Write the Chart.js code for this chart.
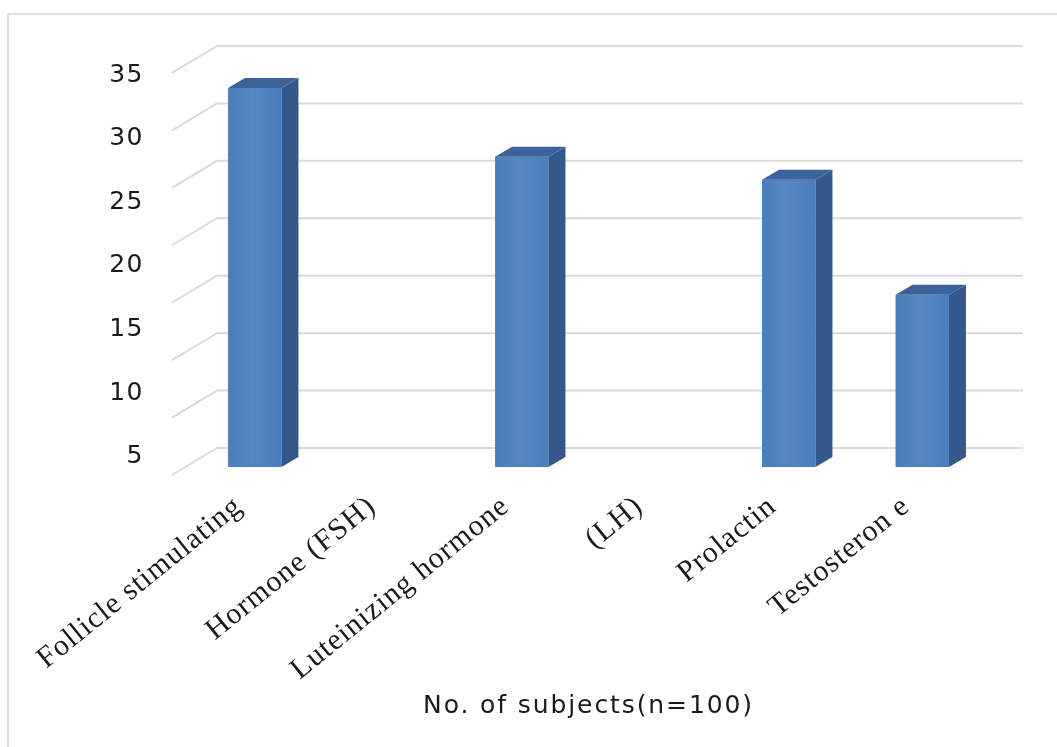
<!DOCTYPE html>
<html>
<head>
<meta charset="utf-8">
<script src="https://cdn.jsdelivr.net/npm/chart.js@4/dist/chart.umd.min.js"></script>
<style>
  html, body { margin: 0; padding: 0; background: #ffffff; }
  #wrap { position: relative; width: 1057px; height: 747px; overflow: hidden; }
  #frame { position: absolute; left: 7px; top: 13px; width: 1120px; height: 760px;
           border: 2px solid #dedede; box-sizing: border-box; }
  canvas { position: absolute; left: 0; top: 0; }
</style>
</head>
<body>
<div id="wrap">
  <div id="frame"></div>
  <canvas id="chart" width="1057" height="747"></canvas>
</div>
<script>
// Hormone categories (two-line labels split across neighbouring slots)
const categories = ['Follicle stimulating', 'Hormone (FSH)', 'Luteinizing hormone', '(LH)', 'Prolactin', 'Testosteron e'];
// Number of subjects per hormone (empty slots carry the second half of a label)
const subjects = [33, null, 27, null, 25, 15];
// Value-axis labels
const yTickLabels = [5, 10, 15, 20, 25, 30, 35];
// Levels of the back-wall grid lines
const gridLevels = [0, 5, 10, 15, 20, 25, 30, 35];

// Simple 3-D look: back-wall grid lines, side and top faces of each bar
const DEPTH_X = 17, DEPTH_Y = -10;            // bar depth
const WALL_SHIFT_Y = -19;                     // back wall relative to bar front
const FLOOR_X = 45, FLOOR_Y = 27;             // grid run-out towards the viewer

// Draw some scale texts with a little extra tracking
function withSpacing(scale, fn, spacing) {
  if (!scale || scale['_plain_' + fn]) return;
  const plain = scale[fn];
  scale['_plain_' + fn] = plain;
  scale[fn] = function (...args) {
    const ctx = this.ctx;
    const prev = ctx.letterSpacing;
    ctx.letterSpacing = spacing;
    try { return plain.apply(this, args); }
    finally { ctx.letterSpacing = prev; }
  };
}

const depth3d = {
  id: 'depth3d',
  beforeDraw(chart) {
    withSpacing(chart.scales.x, 'drawTitle', '1.9px');
    withSpacing(chart.scales.x, 'drawLabels', '1px');
    withSpacing(chart.scales.y, 'drawLabels', '1.5px');
  },
  beforeDatasetsDraw(chart) {
    const { ctx, chartArea } = chart;
    const yv = chart.scales.yv;
    ctx.save();
    ctx.strokeStyle = '#dadada';
    ctx.lineWidth = 2;
    gridLevels.forEach(v => {
      const y = yv.getPixelForValue(v) + WALL_SHIFT_Y;
      const x0 = chartArea.left + 29;
      const x1 = chartArea.right + 34;
      ctx.beginPath();
      ctx.moveTo(x0 - FLOOR_X, y + FLOOR_Y);
      ctx.lineTo(x0, y);
      ctx.lineTo(x1, y);
      ctx.stroke();
    });
    ctx.restore();
  },
  afterDatasetsDraw(chart) {
    const { ctx } = chart;
    const meta = chart.getDatasetMeta(0);
    ctx.save();
    meta.data.forEach((bar, i) => {
      if (subjects[i] === null || subjects[i] === undefined) return;
      const { x, y, base, width } = bar.getProps(['x', 'y', 'base', 'width'], true);
      const l = x - width / 2, r = x + width / 2;
      // lighter band down the middle of the front face
      const g = ctx.createLinearGradient(l, 0, r, 0);
      g.addColorStop(0, 'rgba(255,255,255,0)');
      g.addColorStop(0.45, 'rgba(255,255,255,0.07)');
      g.addColorStop(1, 'rgba(255,255,255,0)');
      ctx.fillStyle = g;
      ctx.fillRect(l, y, r - l, base - y);
      // side face
      ctx.fillStyle = '#34588b';
      ctx.beginPath();
      ctx.moveTo(r, y);
      ctx.lineTo(r + DEPTH_X, y + DEPTH_Y);
      ctx.lineTo(r + DEPTH_X, base + DEPTH_Y);
      ctx.lineTo(r, base);
      ctx.closePath();
      ctx.fill();
      // top face
      ctx.fillStyle = '#3b6299';
      ctx.beginPath();
      ctx.moveTo(l, y);
      ctx.lineTo(l + DEPTH_X, y + DEPTH_Y);
      ctx.lineTo(r + DEPTH_X, y + DEPTH_Y);
      ctx.lineTo(r, y);
      ctx.closePath();
      ctx.fill();
    });
    ctx.restore();
  }
};

function noEdgePadding(s) {
  s.paddingTop = 0; s.paddingBottom = 0; s.paddingLeft = 0; s.paddingRight = 0;
}

new Chart(document.getElementById('chart'), {
  type: 'bar',
  data: {
    labels: categories,
    datasets: [{
      data: subjects,
      yAxisID: 'yv',
      backgroundColor: '#4a7ebc',
      borderWidth: 0,
      barPercentage: 0.4,
      categoryPercentage: 1.0
    }]
  },
  options: {
    responsive: false,
    animation: false,
    layout: { padding: { top: 46, right: 68, left: 0, bottom: 20 } },
    plugins: { legend: { display: false }, tooltip: { enabled: false } },
    scales: {
      x: {
        type: 'category',
        grid: { display: false, drawTicks: false },
        border: { display: false },
        ticks: {
          autoSkip: false,
          minRotation: 39,
          maxRotation: 39,
          padding: 22,
          labelOffset: -16,
          color: '#1a1a1a',
          font: { family: '"Liberation Serif", "Times New Roman", serif', size: 30 }
        },
        title: {
          display: true,
          text: 'No. of subjects(n=100)',
          color: '#1a1a1a',
          font: { family: '"DejaVu Sans", sans-serif', size: 25 },
          padding: { top: 4, bottom: 6 }
        },
        afterFit(s) { s.height = 260; noEdgePadding(s); }
      },
      y: {
        type: 'linear',
        position: 'left',
        min: 4.21,
        max: 37.28,
        grid: { display: false, drawTicks: false },
        border: { display: false },
        afterBuildTicks(s) { s.ticks = yTickLabels.map(v => ({ value: v })); },
        ticks: {
          padding: 44,
          color: '#1a1a1a',
          font: { family: '"DejaVu Sans", sans-serif', size: 25 }
        },
        afterFit(s) { s.width = 188; noEdgePadding(s); }
      },
      yv: {
        type: 'linear',
        display: false,
        min: 0,
        max: 36.65
      }
    }
  },
  plugins: [depth3d]
});
</script>
</body>
</html>
